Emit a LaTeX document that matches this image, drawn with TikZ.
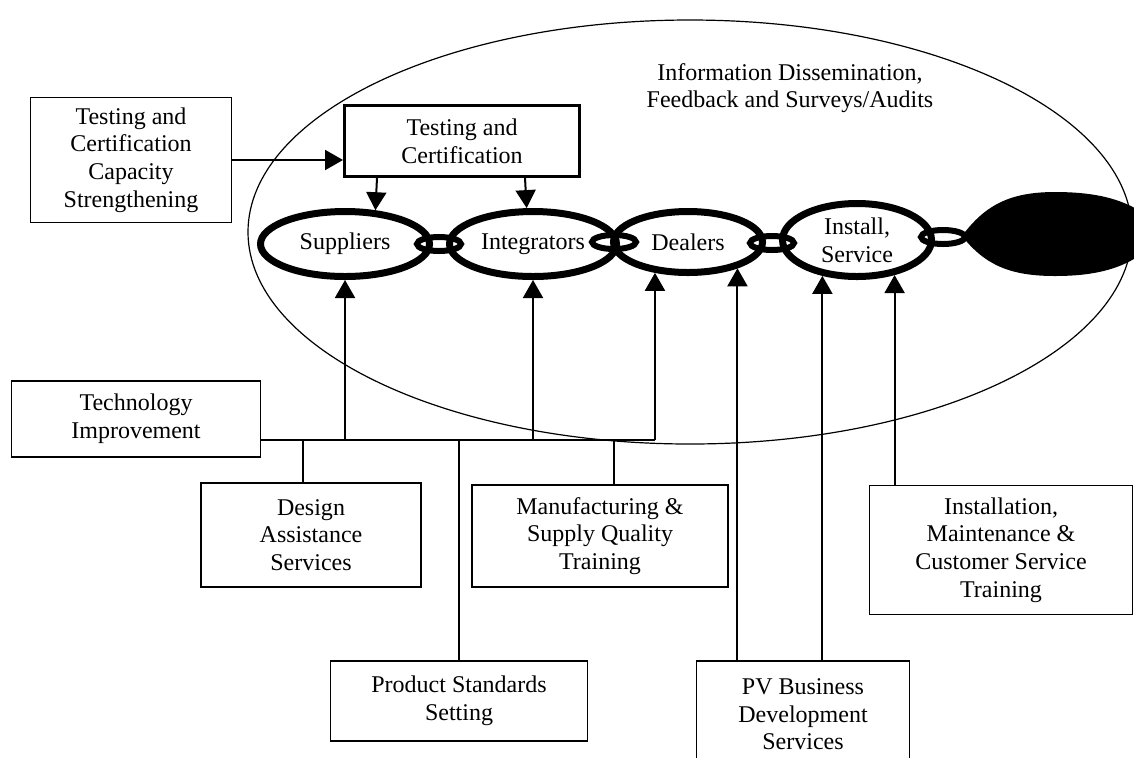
\documentclass[tikz,border=0pt]{standalone}
\usepackage{fontspec}
\setmainfont{Liberation Serif}
\usetikzlibrary{arrows.meta,shapes.geometric}

\tikzset{
  box/.style={draw,line width=0.8pt,align=center,inner sep=2pt},
  ringnode/.style={ellipse,draw,line width=3.5pt,inner sep=0pt,align=center},
  linknode/.style={ellipse,draw,line width=3pt,inner sep=0pt,minimum width=22pt,minimum height=7pt},
  arr/.style={line width=1pt,-{Triangle[width=10pt,length=9pt]}},
  wire/.style={line width=1pt}
}

\begin{document}
\begin{tikzpicture}[x=0.5pt,y=-0.5pt,font=\fontsize{12}{13.8}\selectfont]
  \useasboundingbox (0,0) rectangle (1134,757);
  \clip (0,0) rectangle (1134,757);
  % outer ellipse
  \draw[line width=0.6pt] (690,232) ellipse (221pt and 106pt);
  \node[align=center] (info) at (790,88) {Information Dissemination,\\Feedback and Surveys/Audits};

  % testing boxes
  \node[box,minimum width=100.5pt,minimum height=62.5pt] (tcc) at (131,160) {Testing and\\Certification\\Capacity\\Strengthening};
  \node[box,line width=1.5pt,minimum width=117.5pt,minimum height=35.5pt] (tc) at (462,141) {Testing and\\Certification};

  % the chain
  \node[ringnode,minimum width=84.5pt,minimum height=32.5pt] (sup) at (345,244) {Suppliers};
  \node[ringnode,minimum width=83.5pt,minimum height=32.5pt] (int) at (533,244) {Integrators};
  \node[ringnode,minimum width=74.5pt,minimum height=30.5pt] (deal) at (688,242) {Dealers};
  \node[ringnode,minimum width=74.5pt,minimum height=36.5pt] (inst) at (857,240) {Install,\\Service};
  \node[linknode] (l1) at (439,244) {};
  \node[linknode] (l2) at (614,242) {};
  \node[linknode] (l3) at (772,243) {};
  \node[linknode] (l4) at (943,237) {};
  % last link, solid
  \fill (962,236) .. controls (985,205) and (1010,192) .. (1055,192)
    .. controls (1110,192) and (1140,205) .. (1165,232)
    .. controls (1140,262) and (1110,276) .. (1055,276)
    .. controls (1010,276) and (985,265) .. (962,236) -- cycle;

  % service boxes
  \node[box,minimum width=124.5pt,minimum height=38pt] (tech) at (136,419) {Technology\\Improvement};
  \node[box,minimum width=110pt,minimum height=52pt] (design) at (311,535) {Design\\Assistance\\Services};
  \node[box,minimum width=128pt,minimum height=51pt] (manuf) at (600,536) {Manufacturing \&\\Supply Quality\\Training};
  \node[box,minimum width=128.5pt,minimum height=40pt] (prod) at (459,701) {Product Standards\\Setting};
  \node[box,minimum width=106.5pt,minimum height=53.5pt] (pv) at (803,714.5) {PV Business\\Development\\Services};
  \node[box,minimum width=131.5pt,minimum height=64.5pt] (instm) at (1001,550) {Installation,\\Maintenance \&\\Customer Service\\Training};

  % arrows from testing
  \draw[arr] (tcc.east) -- (tcc.east -| tc.west);
  \draw[arr] ([xshift=-42.5pt]tc.south) -- (sup.48);
  \draw[arr] ([xshift=31.5pt]tc.south) -- (int.100);

  % bus from technology improvement
  \coordinate (bus) at (261,440);
  \draw[wire] (bus) -- (bus -| deal.223);
  \draw[arr] (bus -| sup.south) -- (sup.south);
  \draw[arr] (bus -| int.south) -- (int.south);
  \draw[arr] (bus -| deal.223) -- (deal.223);
  \draw[wire] ([xshift=-4pt]bus -| design.north) -- ([xshift=-4pt]design.north);
  \draw[wire] (bus -| prod.north) -- (prod.north);
  \draw[wire] ([xshift=7pt]bus -| manuf.north) -- ([xshift=7pt]manuf.north);

  % business and installation services
  \draw[arr] (deal.-28 |- pv.north) -- (deal.-28);
  \draw[arr] (inst.226 |- pv.north) -- (inst.226);
  \draw[arr] (inst.-43 |- instm.north) -- (inst.-43);
\end{tikzpicture}
\end{document}
